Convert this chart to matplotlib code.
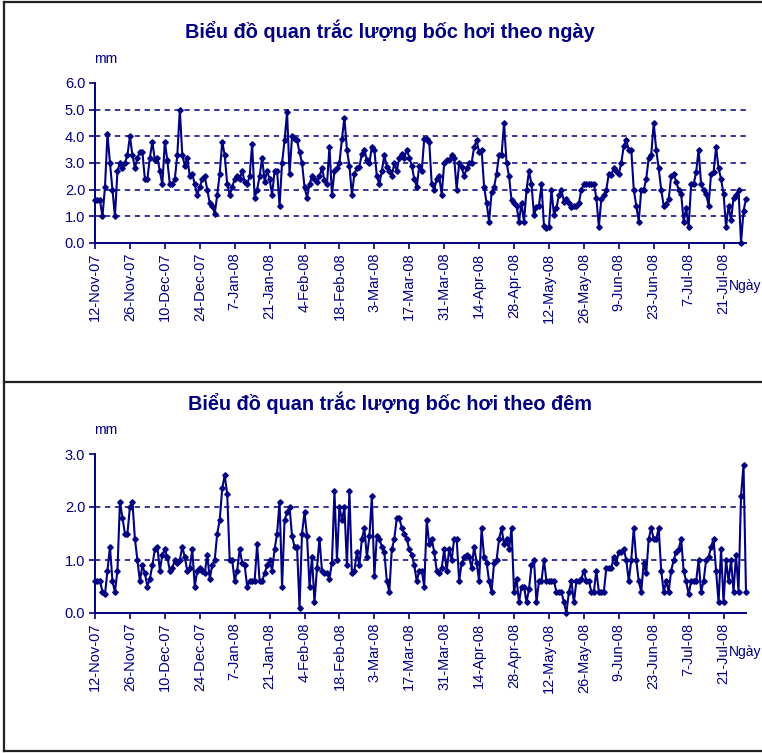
import matplotlib
matplotlib.use('Agg')
import matplotlib.pyplot as plt
from matplotlib.lines import Line2D
from datetime import datetime
import pandas as pd

start_date = '2007-11-12'

day_values = [
    1.6, 1.6, 1.6, 1.0, 2.1, 4.1, 3.0, 2.0, 1.0, 2.7,
    3.0, 2.8, 3.0, 3.3, 4.0, 3.3, 2.8, 3.2, 3.4, 3.4,
    2.4, 2.4, 3.2, 3.8, 3.1, 3.2, 2.7, 2.2, 3.8, 3.1,
    2.2, 2.2, 2.4, 3.3, 5.0, 3.3, 2.9, 3.2, 2.5, 2.6,
    2.2, 1.8, 2.1, 2.4, 2.5, 2.0, 1.5, 1.4, 1.1, 1.8,
    2.6, 3.8, 3.3, 2.2, 1.8, 2.1, 2.4, 2.5, 2.4, 2.7,
    2.3, 2.2, 2.5, 3.7, 1.7, 2.0,
    2.5, 3.2, 2.3, 2.7, 2.4, 1.8, 2.7, 2.7, 1.4, 3.0, 3.85,
    4.9, 2.6, 4.0, 3.9, 3.85, 3.4, 3.0, 2.1, 1.7, 2.2,
    2.5, 2.4, 2.3, 2.5, 2.8, 2.35, 2.2, 3.6, 1.8, 2.7,
    2.8, 3.0, 3.9, 4.7,
    3.5, 2.9, 1.8, 2.6, 2.8, 2.85, 3.35, 3.5, 3.1, 3.0,
    3.6, 3.5, 2.5, 2.2, 2.7, 3.3, 2.85, 2.7, 2.5, 3.0,
    2.7, 3.2, 3.35, 3.2, 3.5, 3.2, 2.9, 2.4, 2.1, 2.9,
    2.7, 3.9, 3.9, 3.8,
    2.2, 2.0, 2.4, 2.5, 1.8, 3.0, 3.1, 3.1, 3.3, 3.2,
    2.0, 3.0, 2.85, 2.5, 2.8, 3.0, 3.0, 3.6, 3.85, 3.4,
    3.5, 2.1, 1.5, 0.8, 1.9, 2.1, 2.6, 3.3, 3.3, 4.5,
    3.0, 2.5, 1.6, 1.5, 1.4, 0.8, 1.5, 0.8, 2.0, 2.7,
    2.2, 1.05, 1.35, 1.4, 2.2, 0.65, 0.55, 0.6, 2.0, 1.05,
    1.3, 1.8, 2.0, 1.55, 1.65, 1.5, 1.35, 1.4, 1.4, 1.5,
    2.0, 2.2, 2.2, 2.2, 2.2, 2.2, 1.7, 0.6,
    1.65, 1.8, 2.0, 2.6, 2.55, 2.8, 2.7, 2.6, 3.0, 3.65,
    3.85, 3.5, 3.5, 2.0, 1.4, 0.8, 2.0, 2.0, 2.4, 3.2,
    3.3, 4.5, 3.5, 2.8, 2.0, 1.4, 1.45, 1.65, 2.5, 2.6,
    2.3, 2.0, 1.85, 0.8, 1.3, 0.6, 2.2, 2.2, 2.65, 3.5,
    2.2, 2.0, 1.85, 1.4, 2.6, 2.65, 3.6, 2.8, 2.4, 1.85,
    0.6, 1.4, 0.85, 1.7, 1.8, 2.0, 0.0, 1.2, 1.65,
]

night_values = [
    0.6, 0.6, 0.6, 0.4, 0.35, 0.8, 1.25, 0.6, 0.4, 0.8,
    2.1, 1.8, 1.5, 1.5, 2.0, 2.1, 1.4, 1.0, 0.6, 0.9,
    0.75, 0.5, 0.65, 0.9, 1.2, 1.25, 0.8, 1.1, 1.2, 1.05,
    0.8, 0.85, 1.0, 0.95, 1.0, 1.25, 1.05, 0.8, 0.85, 1.2,
    0.5, 0.8, 0.85, 0.8, 0.75, 1.1, 0.65, 0.9, 1.0, 1.5,
    1.75, 2.35, 2.6, 2.25, 1.0, 1.0, 0.6, 0.8, 1.2, 0.95,
    0.9, 0.5, 0.6, 0.6, 0.6, 1.3,
    0.6, 0.6, 0.75, 0.9, 1.0, 0.8, 1.2, 1.5, 2.1, 0.5,
    1.75, 1.9, 2.0, 1.45, 1.25, 1.25, 0.1, 1.5, 1.9, 1.45,
    0.5, 1.05, 0.2, 0.85, 1.4, 0.8, 0.75, 0.75, 0.65, 0.95,
    2.3, 1.0, 2.0, 1.75, 2.0, 0.9, 2.3, 0.75, 0.8, 1.15,
    0.9, 1.4, 1.6, 1.05, 1.45, 2.2, 0.7, 1.45, 1.4, 1.25,
    1.15, 0.6, 0.4, 1.2, 1.4, 1.8, 1.8, 1.6, 1.5, 1.4,
    1.2, 1.1, 0.9, 0.6, 0.8, 0.8, 0.5, 1.75, 1.3,
    1.4, 1.15, 0.8, 0.75, 0.85, 1.2, 0.8, 1.2, 1.0, 1.4,
    1.4, 0.6, 0.95, 1.05, 1.1, 1.05, 0.85, 1.25, 0.95, 0.6,
    1.6, 1.05, 0.95, 0.6, 0.4, 0.95, 1.0, 1.4, 1.6, 1.3,
    1.4, 1.2, 1.6, 0.4, 0.65, 0.2, 0.5, 0.5, 0.2, 0.45,
    0.9, 1.0, 0.2, 0.6, 0.6, 1.0, 0.6, 0.6, 0.6, 0.6,
    0.4, 0.4, 0.4, 0.2, 0.0, 0.4, 0.6, 0.2, 0.6, 0.6,
    0.65, 0.8, 0.6, 0.6, 0.4, 0.4, 0.8, 0.4,
    0.4, 0.4, 0.85, 0.85, 0.85, 1.05, 0.95, 1.15, 1.15, 1.2,
    1.0, 0.6, 1.0, 1.6, 1.0, 0.6, 0.4, 0.95, 0.75, 1.4,
    1.6, 1.4, 1.4, 1.6, 0.8, 0.4, 0.6, 0.4, 0.8, 1.0,
    1.15, 1.2, 1.4, 0.8, 0.6, 0.35, 0.6, 0.6, 0.6, 1.0,
    0.4, 0.6, 1.0, 1.05, 1.25, 1.4, 0.8, 0.2, 1.2, 0.2,
    1.0, 0.6, 1.0, 0.4, 1.1, 0.4, 2.2, 2.8, 0.4,
]

tick_labels = ['12-Nov-07', '26-Nov-07', '10-Dec-07', '24-Dec-07', '7-Jan-08',
               '21-Jan-08', '4-Feb-08', '18-Feb-08', '3-Mar-08', '17-Mar-08',
               '31-Mar-08', '14-Apr-08', '28-Apr-08', '12-May-08', '26-May-08',
               '9-Jun-08', '23-Jun-08', '7-Jul-08', '21-Jul-08']

day_yticks = [0.0, 1.0, 2.0, 3.0, 4.0, 5.0, 6.0]
day_grid = [1.0, 2.0, 3.0, 4.0, 5.0]
night_yticks = [0.0, 1.0, 2.0, 3.0]
night_grid = [1.0, 2.0]

title_day = 'Biểu đồ quan trắc lượng bốc hơi theo ngày'
title_night = 'Biểu đồ quan trắc lượng bốc hơi theo đêm'
unit_label = 'mm'
x_label = 'Ngày'

NAVY = '#000080'
FONT = 'Liberation Sans'
plt.rcParams['font.family'] = [FONT, 'DejaVu Sans']

W, H = 762, 753
fig = plt.figure(figsize=(W / 100, H / 100), dpi=100)
fig.patch.set_facecolor('white')

tick_dates = [datetime.strptime(t, '%d-%b-%y') for t in tick_labels]


def px_axes(left, top, right, bottom):
    return fig.add_axes([left / W, 1 - bottom / H, (right - left) / W, (bottom - top) / H])


def draw_panel(ax, values, yticks, grid):
    dates = pd.date_range(start_date, periods=len(values), freq='D')
    ax.plot(dates, values, color=NAVY, lw=1.5, marker='D', ms=2.8,
            mfc=NAVY, mec=NAVY, clip_on=False, zorder=3)
    ax.set_xlim(dates[0], dates[-1])
    ax.set_ylim(yticks[0], yticks[-1])
    for g in grid:
        ax.axhline(g, color=NAVY, ls=(0, (3.5, 3)), lw=1.1, zorder=1)
    for s in ['top', 'right']:
        ax.spines[s].set_visible(False)
    for s in ['left', 'bottom']:
        ax.spines[s].set_color(NAVY)
        ax.spines[s].set_linewidth(1.4)
    ax.set_yticks(yticks)
    ax.set_yticklabels([f'{v:.1f}' for v in yticks])
    ax.set_xticks(tick_dates)
    ax.set_xticklabels(tick_labels, rotation=90)
    ax.tick_params(axis='both', direction='out', length=4, width=1.2,
                   color=NAVY, labelcolor=NAVY)
    ax.tick_params(axis='y', labelsize=10.5, pad=3)
    ax.tick_params(axis='x', labelsize=10.5, pad=3)
    ax.set_facecolor('none')


ax1 = px_axes(95, 83, 746, 243)
draw_panel(ax1, day_values, day_yticks, day_grid)
ax2 = px_axes(95, 454, 746, 613)
draw_panel(ax2, night_values, night_yticks, night_grid)

# titles and labels
fig.text(390 / W, 1 - 31 / H, title_day, ha='center', va='center',
         fontsize=14.3, fontweight='bold', color=NAVY)
fig.text(390 / W, 1 - 403 / H, title_night, ha='center', va='center',
         fontsize=14.3, fontweight='bold', color=NAVY)
fig.text(94 / W, 1 - 59 / H, unit_label, ha='left', va='center', fontsize=10, color=NAVY)
fig.text(94 / W, 1 - 430 / H, unit_label, ha='left', va='center', fontsize=10, color=NAVY)
fig.text(729 / W, 1 - 286 / H, x_label, ha='left', va='center', fontsize=10, color=NAVY)
fig.text(729 / W, 1 - 652 / H, x_label, ha='left', va='center', fontsize=10, color=NAVY)

# panel frames
frame_kw = dict(color='#222222', lw=1.6, transform=fig.transFigure)
for (x0, y0, x1, y1) in [(4, 2, 761, 2), (4, 2, 4, 751), (4, 382, 761, 382), (4, 751, 761, 751)]:
    fig.add_artist(Line2D([x0 / W, x1 / W], [1 - y0 / H, 1 - y1 / H], **frame_kw))

fig.savefig('out.png', dpi=100)
